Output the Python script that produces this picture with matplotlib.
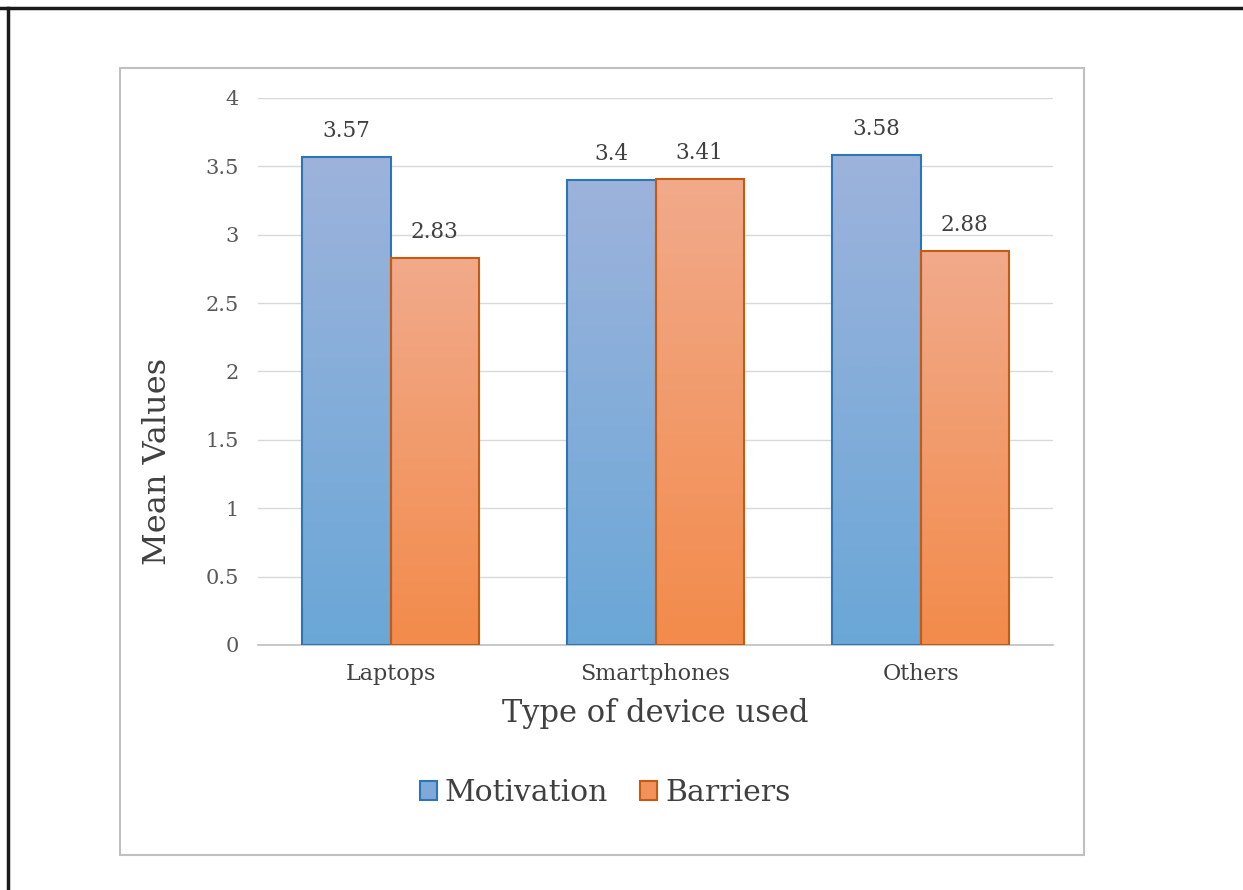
import numpy as np
import matplotlib.pyplot as plt
from matplotlib.colors import LinearSegmentedColormap
from matplotlib.patches import Rectangle
from matplotlib.lines import Line2D

# data
devices = ["Laptops", "Smartphones", "Others"]
motivation = [3.57, 3.40, 3.58]
barriers = [2.83, 3.41, 2.88]
series_names = ["Motivation", "Barriers"]
y_ticks = [0, 0.5, 1, 1.5, 2, 2.5, 3, 3.5, 4]

FONT = ["DejaVu Serif"]
TXT = "#595959"

# gradient colours (top -> bottom) and edge colours
blue_cmap = LinearSegmentedColormap.from_list("blue", ["#9db3dc", "#6aa7d7"])
orange_cmap = LinearSegmentedColormap.from_list("orange", ["#f1aa8b", "#f38b4b"])
blue_edge = "#2e75b6"
orange_edge = "#c55a11"

fig = plt.figure(figsize=(12.43, 8.90), dpi=100)
ax = fig.add_axes([0.2076, 0.2753, 0.6396, 0.6146])

grad = np.linspace(0, 1, 256).reshape(-1, 1)
x = np.arange(len(devices))
w = 0.333


def gradient_bar(x0, h, cmap, edge):
    rect = Rectangle((x0, 0), w, h, facecolor="none", edgecolor=edge,
                     linewidth=1.5, zorder=3)
    ax.add_patch(rect)
    im = ax.imshow(grad, cmap=cmap, aspect="auto", extent=(x0, x0 + w, 0, h),
                   origin="upper", zorder=2, interpolation="bicubic")
    im.set_clip_path(rect)
    return rect


for i in range(len(devices)):
    gradient_bar(x[i] - w, motivation[i], blue_cmap, blue_edge)
    gradient_bar(x[i], barriers[i], orange_cmap, orange_edge)
    ax.text(x[i] - w / 2, motivation[i] + 0.11, f"{motivation[i]:g}", ha="center",
            va="bottom", fontsize=15.5, color="#404040", family=FONT)
    ax.text(x[i] + w / 2, barriers[i] + 0.11, f"{barriers[i]:g}", ha="center",
            va="bottom", fontsize=15.5, color="#404040", family=FONT)

ax.set_xlim(-0.5, 2.5)
ax.set_ylim(0, 4)
ax.set_yticks(y_ticks)
ax.set_yticklabels([f"{t:g}" for t in y_ticks], family=FONT, fontsize=15, color=TXT)
ax.set_xticks(x)
ax.set_xticklabels(devices, family=FONT, fontsize=16, color="#404040")
ax.tick_params(length=0)
ax.tick_params(axis="y", pad=14)
ax.tick_params(axis="x", pad=13)
ax.yaxis.grid(True, color="#d9d9d9", linewidth=1.0, zorder=0)
ax.set_axisbelow(True)
for s in ["top", "right", "left"]:
    ax.spines[s].set_visible(False)
ax.spines["bottom"].set_color("#bfbfbf")
ax.spines["bottom"].set_linewidth(1.2)

ax.set_ylabel("Mean Values", family=FONT, fontsize=23, color="#404040")
ax.yaxis.set_label_coords(-0.107, 0.335)
ax.set_xlabel("Type of device used", family=FONT, fontsize=22, color="#404040", labelpad=9)

# legend
handles = [Rectangle((0, 0), 1, 1, facecolor="#7fa9d9", edgecolor=blue_edge, linewidth=1.5),
           Rectangle((0, 0), 1, 1, facecolor="#f2925a", edgecolor=orange_edge, linewidth=1.5)]
fig.legend(handles, series_names, loc="center", bbox_to_anchor=(0.487, 0.109),
           ncol=2, frameon=False, handlelength=0.57, handleheight=0.57,
           handletextpad=0.27, columnspacing=1.07,
           prop={"family": FONT, "size": 21.5}, labelcolor="#404040")

# chart area border and outer frame lines
fig.add_artist(Rectangle((120 / 1243, 1 - 855 / 890), (1084 - 120) / 1243, (855 - 68) / 890,
                         transform=fig.transFigure, fill=False, edgecolor="#c0c0c0",
                         linewidth=1.5))
fig.add_artist(Line2D([0, 1], [1 - 8 / 890] * 2, transform=fig.transFigure,
                      color="#1a1a1a", linewidth=2.5))
fig.add_artist(Line2D([8 / 1243] * 2, [0, 1 - 8 / 890], transform=fig.transFigure,
                      color="#1a1a1a", linewidth=2.5))

fig.savefig("out.png", dpi=100, facecolor="white")
